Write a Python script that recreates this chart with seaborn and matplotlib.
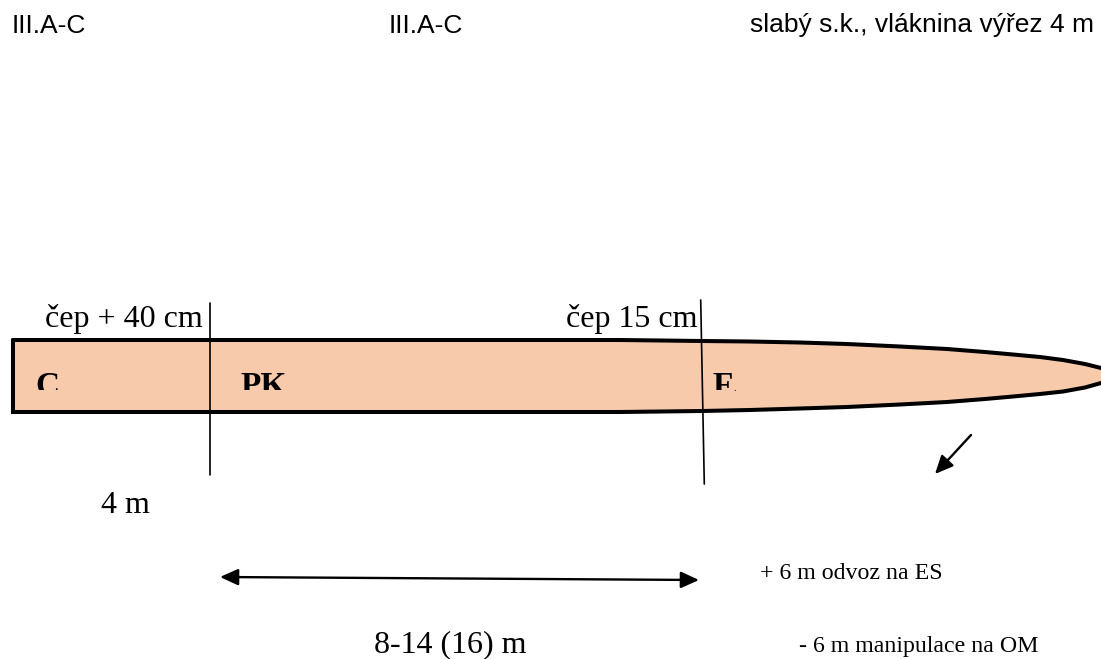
import pandas as pd
from matplotlib import pyplot as plt
from matplotlib.patches import Rectangle
import seaborn as sns

sns.set_theme(style="white")
plt.rcParams["font.family"] = ["Liberation Serif", "DejaVu Serif"]

# trunk outline, picture pixels (the tip runs just past the right edge)
top_x = [13, 620, 702, 750, 800, 847, 900, 947, 985, 1013, 1040, 1063, 1085, 1101, 1112, 1118]
top_y = [340, 340, 341, 341.5, 342.5, 344, 346.5, 349, 352, 354.5, 357, 360, 364, 368, 372, 375]
bottom_x = [1112, 1101, 1085, 1063, 1040, 1013, 985, 947, 900, 847, 800, 750, 702, 620, 13, 13]
bottom_y = [379, 383, 387.5, 391.5, 394, 396.5, 399, 402, 404.5, 407, 408.5, 410, 411, 412, 412, 340]
trunk_x = top_x + bottom_x
trunk_y = top_y + bottom_y

cut_left_x = [209.5, 209.5]
cut_left_y = [303, 475]
cut_right_x = [700.7, 704.3]
cut_right_y = [300, 484]

span_x = [220, 699]
span_y = [577, 580]
arrow_x = [971, 935]
arrow_y = [435, 474]

header_labels = ["III.A-C", "III.A-C", "slabý s.k., vláknina výřez 4 m"]
header_x = [12, 389, 750]
header_y = [33, 33, 32]

note_labels = ["čep + 40 cm", "čep 15 cm", "4 m", "8-14 (16) m", "+ 6 m odvoz na ES", "- 6 m manipulace na OM"]
note_x = [45, 566, 101, 374, 760, 799]
note_y = [327, 327, 513, 652, 579, 652]
note_sizes = [23, 23, 23, 23, 17.2, 17.2]

section_labels = ["C", "PK", "F"]
section_x = [35, 240, 712]
section_y = [395, 395, 395]

df_trunk = pd.DataFrame({"x": trunk_x, "y": trunk_y})

fig, ax = plt.subplots(figsize=(11.01, 6.59), dpi=100)
fig.subplots_adjust(left=0, right=1, bottom=0, top=1)

ax.fill(trunk_x, trunk_y, color="#f7caac", lw=0)
sns.lineplot(data=df_trunk, x="x", y="y", sort=False, estimator=None, color="black", lw=2.9,
             solid_joinstyle="miter", ax=ax)
sns.lineplot(x=cut_left_x, y=cut_left_y, sort=False, estimator=None, color="black", lw=1.2, ax=ax)
sns.lineplot(x=cut_right_x, y=cut_right_y, sort=False, estimator=None, color="black", lw=1.2, ax=ax)

ax.annotate("", xy=(span_x[0], span_y[0]), xytext=(span_x[1], span_y[1]),
            arrowprops=dict(arrowstyle="<|-|>,head_length=1.1,head_width=0.5", color="black", lw=1.7,
                            mutation_scale=10, shrinkA=0, shrinkB=0))
ax.annotate("", xy=(arrow_x[1], arrow_y[1]), xytext=(arrow_x[0], arrow_y[0]),
            arrowprops=dict(arrowstyle="-|>,head_length=1.1,head_width=0.5", color="black", lw=1.7,
                            mutation_scale=10, shrinkA=0, shrinkB=0))

for label, x, y in zip(header_labels, header_x, header_y):
    ax.text(x, y, label, fontsize=19, family=["Liberation Sans"], color="black", va="baseline", ha="left")

for label, x, y, size in zip(note_labels, note_x, note_y, note_sizes):
    ax.text(x, y, label, fontsize=size, color="black", va="baseline", ha="left")

# section letters are cut off at the bottom in the original
for label, x, y in zip(section_labels, section_x, section_y):
    txt = ax.text(x, y, label, fontsize=24, fontweight="bold", color="black", va="baseline", ha="left")
    txt.set_clip_path(Rectangle((0, 340), 1101, 50, transform=ax.transData))
    txt.set_clip_on(True)
ax.text(733, 391, ".", fontsize=7, color="black", va="baseline", ha="left")

ax.set_xlim(0, 1101)
ax.set_ylim(659, 0)
ax.axis("off")

plt.savefig("out.png", dpi=100)
